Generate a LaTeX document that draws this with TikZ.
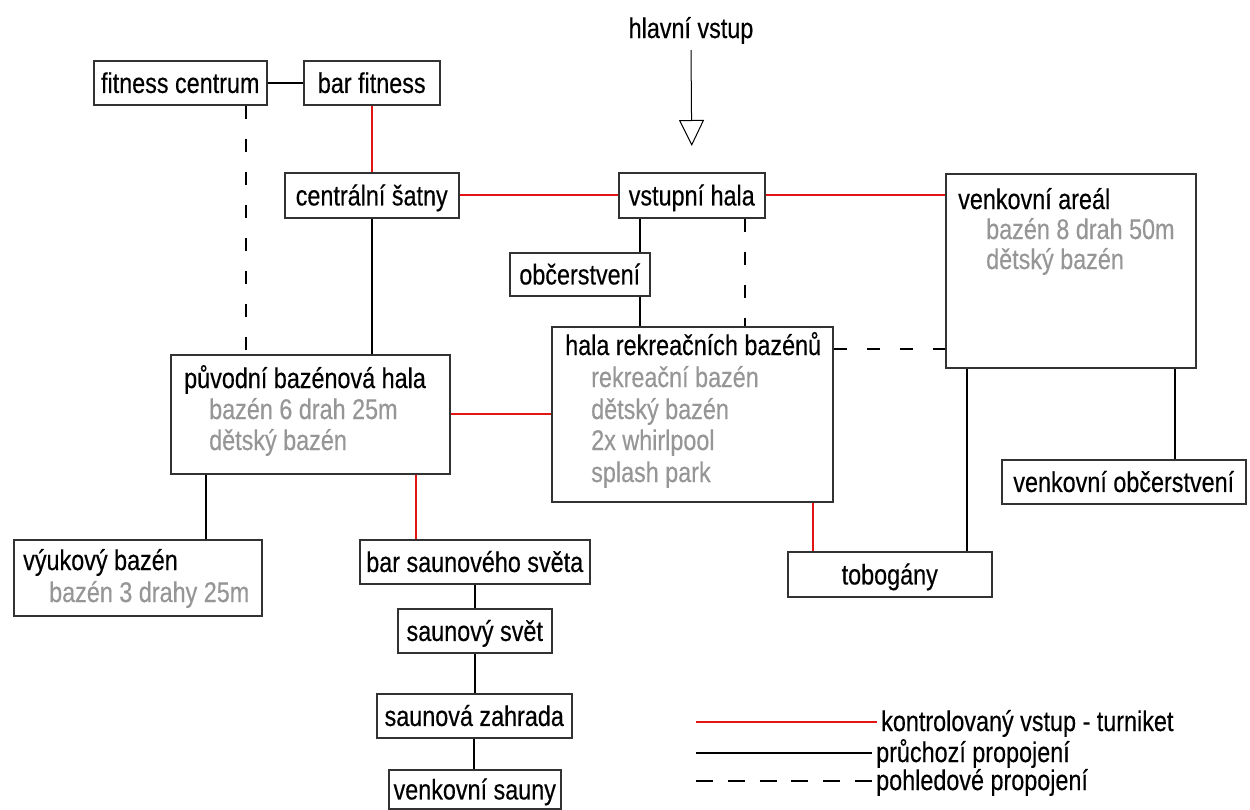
\documentclass[tikz,border=0pt]{standalone}
\usepackage{fontspec}
\setmainfont{Liberation Sans}[FakeStretch=0.82, FakeBold=0.35]
\usetikzlibrary{arrows.meta}
\definecolor{turnred}{RGB}{226,20,20}
\definecolor{subgrey}{RGB}{150,150,150}
\definecolor{boxline}{RGB}{50,50,50}
\begin{document}
\begin{tikzpicture}[x=1pt,y=-1pt,
  every node/.style={font=\fontsize{28.5}{34}\selectfont, inner sep=0pt},
  box/.style={draw=boxline, line width=1.5pt, anchor=north west, text height=20.4pt, text depth=0pt},
  lbl/.style={anchor=base west},
  sub/.style={anchor=base west, text=subgrey},
  redline/.style={draw=turnred, line width=2.2pt},
  blackline/.style={draw=black, line width=2.4pt},
  dashline/.style={draw=black, line width=1.6pt, dash pattern=on 13pt off 20pt},
  legdash/.style={draw=black, line width=1.6pt, dash pattern=on 17pt off 14.8pt},
  entryline/.style={draw=black, line width=1pt, -{Triangle[open, length=26pt, width=25pt, line width=1pt]}},
]
\useasboundingbox (0,0) rectangle (1250,809);

% boxes
\node[box, minimum width=173pt, minimum height=44pt] (fc) at (93,60) {fitness centrum};
\node[box, minimum width=136pt, minimum height=44pt] (bf) at (303,60) {bar fitness};
\node[box, minimum width=174pt, minimum height=45pt] (cs) at (284,172) {centrální šatny};
\node[box, minimum width=146pt, minimum height=45pt] (vh) at (618,172) {vstupní hala};
\node[box, minimum width=250pt, minimum height=194pt] (va) at (945,173) {};
\node[box, minimum width=140pt, minimum height=43pt] (ob) at (509,252) {občerstvení};
\node[box, minimum width=281pt, minimum height=175pt] (hr) at (551,326) {};
\node[box, minimum width=279pt, minimum height=119pt] (ph) at (170,354) {};
\node[box, minimum width=248pt, minimum height=76pt] (vb) at (13,539) {};
\node[box, minimum width=230pt, minimum height=44pt] (bs) at (359,539) {bar saunového světa};
\node[box, minimum width=154pt, minimum height=44pt] (ss) at (397,608) {saunový svět};
\node[box, minimum width=195pt, minimum height=44pt] (sz) at (376,693) {saunová zahrada};
\node[box, minimum width=172pt, minimum height=39pt] (vs) at (388,769) {venkovní sauny};
\node[box, minimum width=204pt, minimum height=45pt] (tb) at (787,551) {tobogány};
\node[box, minimum width=244pt, minimum height=44pt] (vo) at (1001,459) {venkovní občerstvení};

% texts inside multi-line boxes
\node[lbl] (vat) at (958,209) {venkovní areál};
\node[sub] (va1) at (986,239) {bazén 8 drah 50m};
\node[sub] (va2) at (986,269) {dětský bazén};

\node[lbl] (hrt) at (565,355) {hala rekreačních bazénů};
\node[sub] (hr1) at (591,387) {rekreační bazén};
\node[sub] (hr2) at (591,419) {dětský bazén};
\node[sub] (hr3) at (591,450) {2x whirlpool};
\node[sub] (hr4) at (591,482) {splash park};

\node[lbl] (pht) at (184,388) {původní bazénová hala};
\node[sub] (ph1) at (209,419) {bazén 6 drah 25m};
\node[sub] (ph2) at (209,450) {dětský bazén};

\node[lbl] (vbt) at (23,570) {výukový bazén};
\node[sub] (vb1) at (49,602) {bazén 3 drahy 25m};

% main entrance
\node[anchor=base] (hv) at (691,38) {hlavní vstup};
\coordinate (mainin) at (691,50);
\draw[entryline] (mainin) -- ([yshift=26pt]vh.north);

% connectors
\draw[blackline] (fc.east) -- (bf.west);
\draw[redline] (bf.south) -- (cs.north);
\draw[redline] (cs.east) -- (vh.west);
\draw[redline] (vh.east) -- (vh.east -| va.west);
\draw[dashline] ([xshift=65.5pt]fc.south) -- ([xshift=65.5pt]fc.south |- ph.north);
\draw[blackline] (cs.south) -- (cs.south |- ph.north);
\draw[blackline] ([xshift=60pt]ob.north |- vh.south) -- ([xshift=60pt]ob.north);
\draw[blackline] ([xshift=60pt]ob.south) -- ([xshift=60pt]ob.south |- hr.north);
\draw[dashline] ([xshift=53pt]vh.south) -- ([xshift=53pt]vh.south |- hr.north);
\draw[dashline] ([yshift=65.5pt]hr.east) -- ([yshift=65.5pt]hr.east -| va.west);
\draw[redline] (ph.east) -- (hr.west);
\draw[blackline] ([xshift=-104.5pt]ph.south) -- ([xshift=-104.5pt]ph.south |- vb.north);
\draw[redline] ([xshift=105.5pt]ph.south) -- ([xshift=105.5pt]ph.south |- bs.north);
\draw[blackline] (bs.south) -- (bs.south |- ss.north);
\draw[blackline] (ss.south) -- (ss.south |- sz.north);
\draw[blackline] (sz.south) -- (sz.south |- vs.north);
\draw[redline] ([xshift=120.5pt]hr.south) -- ([xshift=120.5pt]hr.south |- tb.north);
\draw[blackline] ([xshift=-104pt]va.south) -- ([xshift=-104pt]va.south |- tb.north);
\draw[blackline] ([xshift=104pt]va.south) -- ([xshift=104pt]va.south |- vo.north);

% legend
\node[lbl] (lg1) at (881,731) {kontrolovaný vstup - turniket};
\node[lbl] (lg2) at (876,762) {průchozí propojení};
\node[lbl] (lg3) at (876,790) {pohledové propojení};
\coordinate (lgs1) at (696,722);
\coordinate (lge1) at (877,722);
\coordinate (lgs2) at (696,753);
\coordinate (lge2) at (872,753);
\coordinate (lgs3) at (696,781);
\coordinate (lge3) at (873,781);
\draw[redline] (lgs1) -- (lge1);
\draw[blackline] (lgs2) -- (lge2);
\draw[legdash] (lgs3) -- (lge3);
\end{tikzpicture}
\end{document}
